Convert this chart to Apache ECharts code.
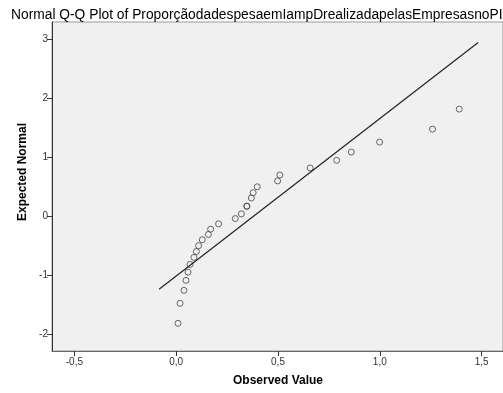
<!DOCTYPE html>
<html>
<head>
<meta charset="utf-8">
<script src="https://cdn.jsdelivr.net/npm/echarts@6/dist/echarts.min.js"></script>
<style>html,body{margin:0;padding:0;background:#fff}#c{width:503px;height:393px}</style>
</head>
<body>
<div id="c"></div>
<script>
const titleText = "Normal Q-Q Plot of ProporçãodadespesaemIampDrealizadapelasEmpresasnoPIB";
const xTitle = "Observed Value";
const yTitle = "Expected Normal";
const xTicks = [-0.5, 0, 0.5, 1.0, 1.5];
const yTicks = [-2, -1, 0, 1, 2, 3];
const observed = [0.009, 0.019, 0.038, 0.048, 0.058, 0.068, 0.087, 0.099, 0.110, 0.128, 0.158, 0.169, 0.208, 0.290, 0.320, 0.347, 0.347, 0.369, 0.378, 0.398, 0.498, 0.509, 0.658, 0.788, 0.860, 0.999, 1.259, 1.390];
const expected = [-1.82, -1.48, -1.26, -1.09, -0.95, -0.82, -0.70, -0.60, -0.50, -0.40, -0.31, -0.22, -0.13, -0.04, 0.04, 0.17, 0.17, 0.31, 0.40, 0.50, 0.60, 0.70, 0.82, 0.95, 1.09, 1.26, 1.48, 1.82];
const lineX = [-0.084, 1.483];
const lineY = [-1.24, 2.95];

const chart = echarts.init(document.getElementById('c'), null, {renderer: 'canvas'});
chart.setOption({
  animation: false,
  backgroundColor: '#ffffff',
  title: {
    text: titleText, left: 6, top: 3,
    textStyle: {fontFamily: 'Liberation Sans', fontSize: 13.8, fontWeight: 'normal', color: '#000'}
  },
  grid: {
    left: 52, right: -1, top: 22, bottom: 42,
    show: true, backgroundColor: '#F0F0F0', borderColor: '#9a9a9a', borderWidth: 1
  },
  xAxis: {
    type: 'value', min: -0.61, max: 1.605,
    axisLine: {show: true, onZero: false, lineStyle: {color: '#666', width: 1}},
    axisTick: {show: true, length: 5, customValues: xTicks, lineStyle: {color: '#333'}},
    axisLabel: {customValues: xTicks, formatter: v => v.toFixed(1).replace('.', ','), fontFamily: 'Liberation Sans', fontSize: 10, color: '#333', margin: 6},
    splitLine: {show: false}
  },
  yAxis: {
    type: 'value', min: -2.29, max: 3.30,
    axisLine: {show: true, onZero: false, lineStyle: {color: '#333', width: 1}},
    axisTick: {show: true, length: 5, customValues: yTicks, lineStyle: {color: '#333'}},
    axisLabel: {customValues: yTicks, formatter: v => String(Math.round(v)), fontFamily: 'Liberation Sans', fontSize: 10, color: '#333', margin: 4},
    splitLine: {show: false}
  },
  graphic: [
    {type: 'text', x: 278, y: 381, style: {text: xTitle, font: 'bold 12px "Liberation Sans"', fill: '#000', align: 'center', verticalAlign: 'middle'}},
    {type: 'text', x: 23, y: 172, rotation: Math.PI / 2, style: {text: yTitle, font: 'bold 12px "Liberation Sans"', fill: '#000', align: 'center', verticalAlign: 'middle'}}
  ],
  series: [
    {
      type: 'line', data: lineX.map((x, i) => [x, lineY[i]]), symbol: 'none',
      lineStyle: {color: '#222', width: 1.2}, silent: true
    },
    {
      type: 'scatter', data: observed.map((x, i) => [x, expected[i]]),
      symbol: 'circle', symbolSize: 6,
      itemStyle: {color: 'rgba(0,0,0,0)', borderColor: '#444', borderWidth: 1}
    }
  ]
});
</script>
</body>
</html>
